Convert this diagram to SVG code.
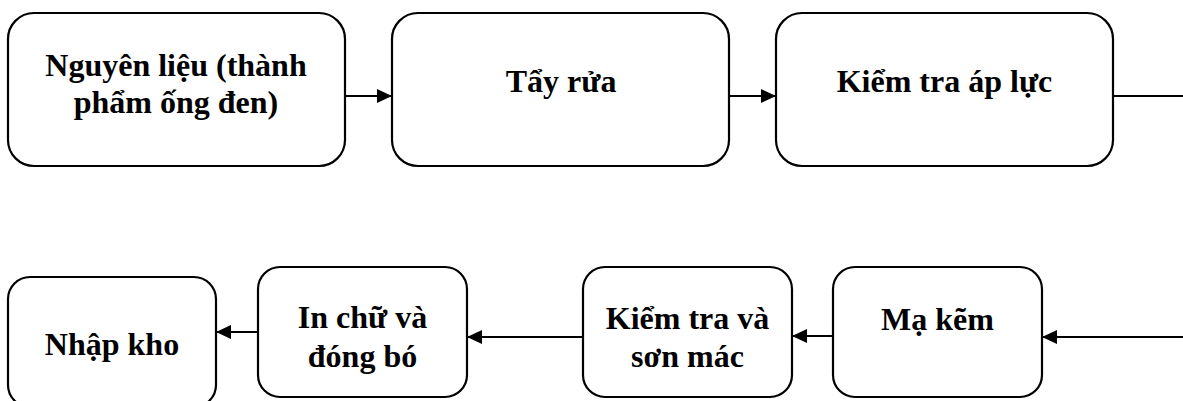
<svg xmlns="http://www.w3.org/2000/svg" width="1183" height="401" viewBox="0 0 1183 401">
<style>
.box{fill:#fff;stroke:#000;stroke-width:2.2}
.t{font-family:'Liberation Serif','Times New Roman',Times,serif;font-weight:700;font-size:32px;text-anchor:middle;fill:#000}
.c{stroke:#000;stroke-width:2;fill:none}
</style>
<defs>
<marker id="ah" markerWidth="15" markerHeight="14" refX="15" refY="7" orient="auto" markerUnits="userSpaceOnUse">
<path d="M0,0 L15,7 L0,14 Z" fill="#000"/>
</marker>
</defs>
<rect width="1183" height="401" fill="#fff"/>
<g id="n1"><rect class="box" x="8" y="13" width="337" height="153" rx="26"/>
<text class="t" x="176" y="76">Nguyên liệu (thành</text>
<text class="t" x="176" y="113">phẩm ống đen)</text></g>
<g id="n2"><rect class="box" x="392" y="13" width="337" height="153" rx="26"/>
<text class="t" x="561" y="92">Tẩy rửa</text></g>
<g id="n3"><rect class="box" x="776" y="13" width="337" height="153" rx="26"/>
<text class="t" x="944.5" y="92">Kiểm tra áp lực</text></g>
<g id="n4"><rect class="box" x="833" y="267" width="209" height="130" rx="22"/>
<text class="t" x="937.5" y="330">Mạ kẽm</text></g>
<g id="n5"><rect class="box" x="583" y="267" width="209" height="130" rx="22"/>
<text class="t" x="687.5" y="329">Kiểm tra và</text>
<text class="t" x="687.5" y="367">sơn mác</text></g>
<g id="n6"><rect class="box" x="258" y="267" width="209" height="130" rx="22"/>
<text class="t" x="362.5" y="328">In chữ và</text>
<text class="t" x="362.5" y="367">đóng bó</text></g>
<g id="n7"><rect class="box" x="8" y="277" width="208" height="130" rx="22"/>
<text class="t" x="112" y="355">Nhập kho</text></g>
<g id="connectors">
<line class="c" x1="345" y1="96" x2="392" y2="96" marker-end="url(#ah)"/>
<line class="c" x1="729" y1="96" x2="776" y2="96" marker-end="url(#ah)"/>
<line class="c" x1="1113" y1="96" x2="1183" y2="96"/>
<line class="c" x1="1183" y1="337" x2="1042" y2="337" marker-end="url(#ah)"/>
<line class="c" x1="833" y1="336" x2="792" y2="336" marker-end="url(#ah)"/>
<line class="c" x1="583" y1="337" x2="467" y2="337" marker-end="url(#ah)"/>
<line class="c" x1="258" y1="332" x2="216" y2="332" marker-end="url(#ah)"/>
</g>
</svg>
